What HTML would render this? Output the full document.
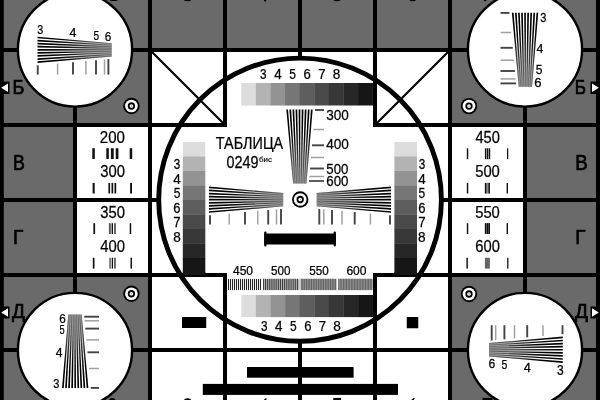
<!DOCTYPE html>
<html><head><meta charset="utf-8"><style>
html,body{margin:0;padding:0;background:#fff;width:600px;height:400px;overflow:hidden}
svg{display:block;will-change:transform}
text{font-family:"Liberation Sans",sans-serif;fill:#000}
</style></head><body>
<svg width="600" height="400" viewBox="0 0 600 400">
<rect x="0" y="0" width="600" height="400" fill="#fff"/>
<rect x="0" y="0" width="600" height="50" fill="#6a6a6a"/>
<rect x="0" y="50" width="150" height="75" fill="#6a6a6a"/>
<rect x="450" y="50" width="150" height="75" fill="#6a6a6a"/>
<rect x="0" y="125" width="75" height="150" fill="#6a6a6a"/>
<rect x="525" y="125" width="75" height="150" fill="#6a6a6a"/>
<rect x="0" y="275" width="150" height="125" fill="#6a6a6a"/>
<rect x="450" y="275" width="150" height="125" fill="#6a6a6a"/>
<rect x="0" y="0" width="3.8" height="400" fill="#000"/>
<rect x="596" y="0" width="4" height="400" fill="#000"/>
<rect x="73" y="0" width="4" height="400" fill="#000"/>
<rect x="148" y="0" width="4" height="400" fill="#000"/>
<rect x="448" y="0" width="4" height="400" fill="#000"/>
<rect x="523" y="0" width="4" height="400" fill="#000"/>
<rect x="223" y="0" width="4" height="127" fill="#000"/>
<rect x="223" y="273" width="4" height="127" fill="#000"/>
<rect x="373" y="0" width="4" height="127" fill="#000"/>
<rect x="373" y="273" width="4" height="127" fill="#000"/>
<rect x="298" y="0" width="4" height="60" fill="#000"/>
<rect x="298" y="340" width="4" height="60" fill="#000"/>
<rect x="0" y="48" width="600" height="4" fill="#000"/>
<rect x="0" y="348" width="600" height="4" fill="#000"/>
<rect x="0" y="123" width="227" height="4" fill="#000"/>
<rect x="373" y="123" width="227" height="4" fill="#000"/>
<rect x="0" y="273" width="227" height="4" fill="#000"/>
<rect x="373" y="273" width="227" height="4" fill="#000"/>
<rect x="0" y="198" width="160" height="4" fill="#000"/>
<rect x="440" y="198" width="160" height="4" fill="#000"/>
<line x1="150" y1="50" x2="225" y2="125" stroke="#000" stroke-width="2.2"/>
<line x1="450" y1="50" x2="375" y2="125" stroke="#000" stroke-width="2.2"/>
<ellipse cx="300.05" cy="199.7" rx="141.35" ry="141.6" fill="none" stroke="#000" stroke-width="4.9"/>
<circle cx="75" cy="49.5" r="57.1" fill="#fff" stroke="#000" stroke-width="2.4"/>
<circle cx="525" cy="49.5" r="57.1" fill="#fff" stroke="#000" stroke-width="2.4"/>
<circle cx="75" cy="350" r="57.1" fill="#fff" stroke="#000" stroke-width="2.4"/>
<circle cx="525" cy="350" r="57.1" fill="#fff" stroke="#000" stroke-width="2.4"/>
<circle cx="131.4" cy="106" r="8.2" fill="#000" stroke="none" stroke-width="0"/>
<circle cx="131.4" cy="106" r="6.35" fill="#fff" stroke="none" stroke-width="0"/>
<circle cx="131.4" cy="106" r="3.65" fill="#000" stroke="none" stroke-width="0"/>
<circle cx="131.4" cy="106" r="1.85" fill="#fff" stroke="none" stroke-width="0"/>
<circle cx="131.4" cy="106" r="0.6" fill="#555" stroke="none" stroke-width="0"/>
<circle cx="469" cy="106.1" r="8.2" fill="#000" stroke="none" stroke-width="0"/>
<circle cx="469" cy="106.1" r="6.35" fill="#fff" stroke="none" stroke-width="0"/>
<circle cx="469" cy="106.1" r="3.65" fill="#000" stroke="none" stroke-width="0"/>
<circle cx="469" cy="106.1" r="1.85" fill="#fff" stroke="none" stroke-width="0"/>
<circle cx="469" cy="106.1" r="0.6" fill="#555" stroke="none" stroke-width="0"/>
<circle cx="131.4" cy="293.75" r="8.2" fill="#000" stroke="none" stroke-width="0"/>
<circle cx="131.4" cy="293.75" r="6.35" fill="#fff" stroke="none" stroke-width="0"/>
<circle cx="131.4" cy="293.75" r="3.65" fill="#000" stroke="none" stroke-width="0"/>
<circle cx="131.4" cy="293.75" r="1.85" fill="#fff" stroke="none" stroke-width="0"/>
<circle cx="131.4" cy="293.75" r="0.6" fill="#555" stroke="none" stroke-width="0"/>
<circle cx="469" cy="294" r="8.2" fill="#000" stroke="none" stroke-width="0"/>
<circle cx="469" cy="294" r="6.35" fill="#fff" stroke="none" stroke-width="0"/>
<circle cx="469" cy="294" r="3.65" fill="#000" stroke="none" stroke-width="0"/>
<circle cx="469" cy="294" r="1.85" fill="#fff" stroke="none" stroke-width="0"/>
<circle cx="469" cy="294" r="0.6" fill="#555" stroke="none" stroke-width="0"/>
<circle cx="300.2" cy="199.5" r="8.2" fill="#000" stroke="none" stroke-width="0"/>
<circle cx="300.2" cy="199.5" r="6.35" fill="#fff" stroke="none" stroke-width="0"/>
<circle cx="300.2" cy="199.5" r="3.65" fill="#000" stroke="none" stroke-width="0"/>
<circle cx="300.2" cy="199.5" r="1.85" fill="#fff" stroke="none" stroke-width="0"/>
<circle cx="300.2" cy="199.5" r="0.6" fill="#999" stroke="none" stroke-width="0"/>
<linearGradient id="wbg1" gradientUnits="userSpaceOnUse" x1="37.5" y1="49.8" x2="111.7" y2="49.8"><stop offset="0.0" stop-color="#ffffff"/><stop offset="0.1" stop-color="#ffffff"/><stop offset="0.2" stop-color="#ffffff"/><stop offset="0.3" stop-color="#ffffff"/><stop offset="0.4" stop-color="#f1f1f1"/><stop offset="0.5" stop-color="#e1e1e1"/><stop offset="0.6" stop-color="#d0d0d0"/><stop offset="0.7" stop-color="#c0c0c0"/><stop offset="0.8" stop-color="#afafaf"/><stop offset="0.9" stop-color="#9f9f9f"/><stop offset="1.0" stop-color="#939393"/></linearGradient>
<linearGradient id="wfg1" gradientUnits="userSpaceOnUse" x1="37.5" y1="49.8" x2="111.7" y2="49.8"><stop offset="0.0" stop-color="#000000"/><stop offset="0.1" stop-color="#000000"/><stop offset="0.2" stop-color="#000000"/><stop offset="0.3" stop-color="#000000"/><stop offset="0.4" stop-color="#0f0f0f"/><stop offset="0.5" stop-color="#212121"/><stop offset="0.6" stop-color="#323232"/><stop offset="0.7" stop-color="#444444"/><stop offset="0.8" stop-color="#555555"/><stop offset="0.9" stop-color="#676767"/><stop offset="1.0" stop-color="#747474"/></linearGradient>
<polygon points="37.5,36.63 111.7,43.17 111.7,56.43 37.5,62.97" fill="url(#wbg1)"/>
<polygon points="37.5,36.63 111.7,43.17 111.7,44.03 37.5,38.33" fill="url(#wfg1)"/>
<polygon points="37.5,39.71 111.7,44.72 111.7,45.58 37.5,41.41" fill="url(#wfg1)"/>
<polygon points="37.5,42.79 111.7,46.27 111.7,47.13 37.5,44.49" fill="url(#wfg1)"/>
<polygon points="37.5,45.87 111.7,47.82 111.7,48.68 37.5,47.57" fill="url(#wfg1)"/>
<polygon points="37.5,48.95 111.7,49.37 111.7,50.23 37.5,50.65" fill="url(#wfg1)"/>
<polygon points="37.5,52.03 111.7,50.92 111.7,51.78 37.5,53.73" fill="url(#wfg1)"/>
<polygon points="37.5,55.11 111.7,52.47 111.7,53.33 37.5,56.81" fill="url(#wfg1)"/>
<polygon points="37.5,58.19 111.7,54.02 111.7,54.88 37.5,59.89" fill="url(#wfg1)"/>
<polygon points="37.5,61.27 111.7,55.57 111.7,56.43 37.5,62.97" fill="url(#wfg1)"/>
<line x1="37.75" y1="65.34" x2="37.75" y2="74.6" stroke="#444" stroke-width="1.9"/>
<line x1="57.6" y1="63.6" x2="57.6" y2="74.6" stroke="#a0a0a0" stroke-width="1.5"/>
<line x1="73" y1="62.24" x2="73" y2="74.6" stroke="#444" stroke-width="1.9"/>
<line x1="85.9" y1="61.1" x2="85.9" y2="74.6" stroke="#a0a0a0" stroke-width="1.5"/>
<line x1="96" y1="60.21" x2="96" y2="74.6" stroke="#444" stroke-width="1.9"/>
<line x1="104.5" y1="59.46" x2="104.5" y2="74.6" stroke="#a0a0a0" stroke-width="1.5"/>
<line x1="108.4" y1="59.12" x2="108.4" y2="74.6" stroke="#444" stroke-width="1.9"/>
<text transform="translate(37.17,33.7) scale(0.808,1)" font-size="13.43" stroke="#000" stroke-width="0.25">3</text>
<text transform="translate(69.54,36.8) scale(1.033,1)" font-size="12.10" stroke="#000" stroke-width="0.25">4</text>
<text transform="translate(93.4,39.6) scale(0.792,1)" font-size="12.75" stroke="#000" stroke-width="0.25">5</text>
<text transform="translate(104.81,41) scale(0.934,1)" font-size="12.57" stroke="#000" stroke-width="0.25">6</text>
<linearGradient id="wbg2" gradientUnits="userSpaceOnUse" x1="489" y1="349.75" x2="562.8" y2="349.75"><stop offset="0.0" stop-color="#939393"/><stop offset="0.1" stop-color="#9f9f9f"/><stop offset="0.2" stop-color="#afafaf"/><stop offset="0.3" stop-color="#c0c0c0"/><stop offset="0.4" stop-color="#d0d0d0"/><stop offset="0.5" stop-color="#e1e1e1"/><stop offset="0.6" stop-color="#f1f1f1"/><stop offset="0.7" stop-color="#ffffff"/><stop offset="0.8" stop-color="#ffffff"/><stop offset="0.9" stop-color="#ffffff"/><stop offset="1.0" stop-color="#ffffff"/></linearGradient>
<linearGradient id="wfg2" gradientUnits="userSpaceOnUse" x1="489" y1="349.75" x2="562.8" y2="349.75"><stop offset="0.0" stop-color="#747474"/><stop offset="0.1" stop-color="#676767"/><stop offset="0.2" stop-color="#555555"/><stop offset="0.3" stop-color="#444444"/><stop offset="0.4" stop-color="#323232"/><stop offset="0.5" stop-color="#212121"/><stop offset="0.6" stop-color="#0f0f0f"/><stop offset="0.7" stop-color="#000000"/><stop offset="0.8" stop-color="#000000"/><stop offset="0.9" stop-color="#000000"/><stop offset="1.0" stop-color="#000000"/></linearGradient>
<polygon points="489,343.12 562.8,336.58 562.8,362.92 489,356.38" fill="url(#wbg2)"/>
<polygon points="489,343.12 562.8,336.58 562.8,338.28 489,343.98" fill="url(#wfg2)"/>
<polygon points="489,344.67 562.8,339.66 562.8,341.36 489,345.53" fill="url(#wfg2)"/>
<polygon points="489,346.22 562.8,342.74 562.8,344.44 489,347.08" fill="url(#wfg2)"/>
<polygon points="489,347.77 562.8,345.82 562.8,347.52 489,348.63" fill="url(#wfg2)"/>
<polygon points="489,349.32 562.8,348.9 562.8,350.6 489,350.18" fill="url(#wfg2)"/>
<polygon points="489,350.87 562.8,351.98 562.8,353.68 489,351.73" fill="url(#wfg2)"/>
<polygon points="489,352.42 562.8,355.06 562.8,356.76 489,353.28" fill="url(#wfg2)"/>
<polygon points="489,353.97 562.8,358.14 562.8,359.84 489,354.83" fill="url(#wfg2)"/>
<polygon points="489,355.52 562.8,361.22 562.8,362.92 489,356.38" fill="url(#wfg2)"/>
<line x1="491.7" y1="340.48" x2="491.7" y2="325.2" stroke="#444" stroke-width="1.9"/>
<line x1="495.7" y1="340.13" x2="495.7" y2="325.2" stroke="#a0a0a0" stroke-width="1.5"/>
<line x1="504.4" y1="339.36" x2="504.4" y2="325.2" stroke="#444" stroke-width="1.9"/>
<line x1="514.5" y1="338.46" x2="514.5" y2="325.2" stroke="#a0a0a0" stroke-width="1.5"/>
<line x1="527.2" y1="337.34" x2="527.2" y2="325.2" stroke="#444" stroke-width="1.9"/>
<line x1="543" y1="335.94" x2="543" y2="325.2" stroke="#a0a0a0" stroke-width="1.5"/>
<line x1="562.5" y1="334.21" x2="562.5" y2="325.2" stroke="#444" stroke-width="1.9"/>
<text transform="translate(488.39,367.6) scale(0.907,1)" font-size="13.43" stroke="#000" stroke-width="0.25">6</text>
<text transform="translate(501.58,368.8) scale(0.825,1)" font-size="12.75" stroke="#000" stroke-width="0.25">5</text>
<text transform="translate(523.68,371.6) scale(1.004,1)" font-size="12.75" stroke="#000" stroke-width="0.25">4</text>
<text transform="translate(557.12,374.8) scale(0.869,1)" font-size="13.71" stroke="#000" stroke-width="0.25">3</text>
<linearGradient id="wbg3" gradientUnits="userSpaceOnUse" x1="525.05" y1="12.7" x2="525.4" y2="86.8"><stop offset="0.0" stop-color="#ffffff"/><stop offset="0.1" stop-color="#ffffff"/><stop offset="0.2" stop-color="#ffffff"/><stop offset="0.3" stop-color="#ffffff"/><stop offset="0.4" stop-color="#f1f1f1"/><stop offset="0.5" stop-color="#e1e1e1"/><stop offset="0.6" stop-color="#d0d0d0"/><stop offset="0.7" stop-color="#c0c0c0"/><stop offset="0.8" stop-color="#afafaf"/><stop offset="0.9" stop-color="#9f9f9f"/><stop offset="1.0" stop-color="#939393"/></linearGradient>
<linearGradient id="wfg3" gradientUnits="userSpaceOnUse" x1="525.05" y1="12.7" x2="525.4" y2="86.8"><stop offset="0.0" stop-color="#000000"/><stop offset="0.1" stop-color="#000000"/><stop offset="0.2" stop-color="#000000"/><stop offset="0.3" stop-color="#000000"/><stop offset="0.4" stop-color="#0f0f0f"/><stop offset="0.5" stop-color="#212121"/><stop offset="0.6" stop-color="#323232"/><stop offset="0.7" stop-color="#444444"/><stop offset="0.8" stop-color="#555555"/><stop offset="0.9" stop-color="#676767"/><stop offset="1.0" stop-color="#747474"/></linearGradient>
<polygon points="511.88,12.7 518.77,86.8 532.03,86.8 538.22,12.7" fill="url(#wbg3)"/>
<polygon points="511.88,12.7 518.77,86.8 519.63,86.8 513.58,12.7" fill="url(#wfg3)"/>
<polygon points="514.96,12.7 520.32,86.8 521.18,86.8 516.66,12.7" fill="url(#wfg3)"/>
<polygon points="518.04,12.7 521.87,86.8 522.73,86.8 519.74,12.7" fill="url(#wfg3)"/>
<polygon points="521.12,12.7 523.42,86.8 524.28,86.8 522.82,12.7" fill="url(#wfg3)"/>
<polygon points="524.2,12.7 524.97,86.8 525.83,86.8 525.9,12.7" fill="url(#wfg3)"/>
<polygon points="527.28,12.7 526.52,86.8 527.38,86.8 528.98,12.7" fill="url(#wfg3)"/>
<polygon points="530.36,12.7 528.07,86.8 528.93,86.8 532.06,12.7" fill="url(#wfg3)"/>
<polygon points="533.44,12.7 529.62,86.8 530.48,86.8 535.14,12.7" fill="url(#wfg3)"/>
<polygon points="536.52,12.7 531.17,86.8 532.03,86.8 538.22,12.7" fill="url(#wfg3)"/>
<line x1="509.5" y1="12.9" x2="500.5" y2="12.9" stroke="#444" stroke-width="1.9"/>
<line x1="511.32" y1="32.5" x2="500.5" y2="32.5" stroke="#a0a0a0" stroke-width="1.5"/>
<line x1="512.75" y1="47.8" x2="500.5" y2="47.8" stroke="#444" stroke-width="1.9"/>
<line x1="513.9" y1="60.2" x2="500.5" y2="60.2" stroke="#a0a0a0" stroke-width="1.5"/>
<line x1="514.9" y1="71" x2="500.5" y2="71" stroke="#444" stroke-width="1.9"/>
<line x1="515.64" y1="78.9" x2="500.5" y2="78.9" stroke="#a0a0a0" stroke-width="1.5"/>
<line x1="516.06" y1="83.4" x2="500.5" y2="83.4" stroke="#444" stroke-width="1.9"/>
<text transform="translate(540.36,21.8) scale(0.807,1)" font-size="13.71" stroke="#000" stroke-width="0.25">3</text>
<text transform="translate(536.59,52.5) scale(0.978,1)" font-size="12.68" stroke="#000" stroke-width="0.25">4</text>
<text transform="translate(535.77,74.4) scale(0.933,1)" font-size="12.75" stroke="#000" stroke-width="0.25">5</text>
<text transform="translate(534.35,86.9) scale(1.038,1)" font-size="12.57" stroke="#000" stroke-width="0.25">6</text>
<linearGradient id="wbg4" gradientUnits="userSpaceOnUse" x1="75" y1="314.5" x2="75.2" y2="388"><stop offset="0.0" stop-color="#939393"/><stop offset="0.1" stop-color="#9f9f9f"/><stop offset="0.2" stop-color="#afafaf"/><stop offset="0.3" stop-color="#c0c0c0"/><stop offset="0.4" stop-color="#d0d0d0"/><stop offset="0.5" stop-color="#e1e1e1"/><stop offset="0.6" stop-color="#f1f1f1"/><stop offset="0.7" stop-color="#ffffff"/><stop offset="0.8" stop-color="#ffffff"/><stop offset="0.9" stop-color="#ffffff"/><stop offset="1.0" stop-color="#ffffff"/></linearGradient>
<linearGradient id="wfg4" gradientUnits="userSpaceOnUse" x1="75" y1="314.5" x2="75.2" y2="388"><stop offset="0.0" stop-color="#747474"/><stop offset="0.1" stop-color="#676767"/><stop offset="0.2" stop-color="#555555"/><stop offset="0.3" stop-color="#444444"/><stop offset="0.4" stop-color="#323232"/><stop offset="0.5" stop-color="#212121"/><stop offset="0.6" stop-color="#0f0f0f"/><stop offset="0.7" stop-color="#000000"/><stop offset="0.8" stop-color="#000000"/><stop offset="0.9" stop-color="#000000"/><stop offset="1.0" stop-color="#000000"/></linearGradient>
<polygon points="68.37,314.5 62.03,388 88.37,388 81.63,314.5" fill="url(#wbg4)"/>
<polygon points="68.37,314.5 62.03,388 63.73,388 69.23,314.5" fill="url(#wfg4)"/>
<polygon points="69.92,314.5 65.11,388 66.81,388 70.78,314.5" fill="url(#wfg4)"/>
<polygon points="71.47,314.5 68.19,388 69.89,388 72.33,314.5" fill="url(#wfg4)"/>
<polygon points="73.02,314.5 71.27,388 72.97,388 73.88,314.5" fill="url(#wfg4)"/>
<polygon points="74.57,314.5 74.35,388 76.05,388 75.43,314.5" fill="url(#wfg4)"/>
<polygon points="76.12,314.5 77.43,388 79.13,388 76.98,314.5" fill="url(#wfg4)"/>
<polygon points="77.67,314.5 80.51,388 82.21,388 78.53,314.5" fill="url(#wfg4)"/>
<polygon points="79.22,314.5 83.59,388 85.29,388 80.08,314.5" fill="url(#wfg4)"/>
<polygon points="80.77,314.5 86.67,388 88.37,388 81.63,314.5" fill="url(#wfg4)"/>
<line x1="84.23" y1="316.7" x2="99" y2="316.7" stroke="#444" stroke-width="1.9"/>
<line x1="84.6" y1="320.8" x2="99" y2="320.8" stroke="#a0a0a0" stroke-width="1.5"/>
<line x1="85.32" y1="328.6" x2="99" y2="328.6" stroke="#444" stroke-width="1.9"/>
<line x1="86.36" y1="339.9" x2="99" y2="339.9" stroke="#a0a0a0" stroke-width="1.5"/>
<line x1="87.49" y1="352.3" x2="99" y2="352.3" stroke="#444" stroke-width="1.9"/>
<line x1="88.98" y1="368.5" x2="99" y2="368.5" stroke="#a0a0a0" stroke-width="1.5"/>
<line x1="90.76" y1="387.9" x2="99" y2="387.9" stroke="#444" stroke-width="1.9"/>
<text transform="translate(59.32,323.25) scale(0.900,1)" font-size="12.93" stroke="#000" stroke-width="0.25">6</text>
<text transform="translate(59.53,333.9) scale(0.702,1)" font-size="13.19" stroke="#000" stroke-width="0.25">5</text>
<text transform="translate(55.8,356.6) scale(0.985,1)" font-size="12.39" stroke="#000" stroke-width="0.25">4</text>
<text transform="translate(53.36,387.7) scale(0.861,1)" font-size="12.86" stroke="#000" stroke-width="0.25">3</text>
<rect x="241.25" y="83" width="14.9" height="22.5" fill="#dcdcdc"/>
<rect x="241.3" y="295" width="14.9" height="22.1" fill="#dcdcdc"/>
<rect x="182.8" y="142" width="22.5" height="14.8" fill="#dcdcdc"/>
<rect x="394.4" y="142" width="22.6" height="14.8" fill="#dcdcdc"/>
<rect x="255.85" y="83" width="14.9" height="22.5" fill="#b3b3b3"/>
<rect x="255.9" y="295" width="14.9" height="22.1" fill="#b3b3b3"/>
<rect x="182.8" y="156.5" width="22.5" height="14.8" fill="#b3b3b3"/>
<rect x="394.4" y="156.5" width="22.6" height="14.8" fill="#b3b3b3"/>
<rect x="270.45" y="83" width="14.9" height="22.5" fill="#939393"/>
<rect x="270.5" y="295" width="14.9" height="22.1" fill="#939393"/>
<rect x="182.8" y="171" width="22.5" height="14.8" fill="#939393"/>
<rect x="394.4" y="171" width="22.6" height="14.8" fill="#939393"/>
<rect x="285.05" y="83" width="14.9" height="22.5" fill="#767676"/>
<rect x="285.1" y="295" width="14.9" height="22.1" fill="#767676"/>
<rect x="182.8" y="185.5" width="22.5" height="14.8" fill="#767676"/>
<rect x="394.4" y="185.5" width="22.6" height="14.8" fill="#767676"/>
<rect x="299.65" y="83" width="14.9" height="22.5" fill="#5e5e5e"/>
<rect x="299.7" y="295" width="14.9" height="22.1" fill="#5e5e5e"/>
<rect x="182.8" y="200" width="22.5" height="14.8" fill="#5e5e5e"/>
<rect x="394.4" y="200" width="22.6" height="14.8" fill="#5e5e5e"/>
<rect x="314.25" y="83" width="14.9" height="22.5" fill="#4a4a4a"/>
<rect x="314.3" y="295" width="14.9" height="22.1" fill="#4a4a4a"/>
<rect x="182.8" y="214.5" width="22.5" height="14.8" fill="#4a4a4a"/>
<rect x="394.4" y="214.5" width="22.6" height="14.8" fill="#4a4a4a"/>
<rect x="328.85" y="83" width="14.9" height="22.5" fill="#383838"/>
<rect x="328.9" y="295" width="14.9" height="22.1" fill="#383838"/>
<rect x="182.8" y="229" width="22.5" height="14.8" fill="#383838"/>
<rect x="394.4" y="229" width="22.6" height="14.8" fill="#383838"/>
<rect x="343.45" y="83" width="14.9" height="22.5" fill="#272727"/>
<rect x="343.5" y="295" width="14.9" height="22.1" fill="#272727"/>
<rect x="182.8" y="243.5" width="22.5" height="14.8" fill="#272727"/>
<rect x="394.4" y="243.5" width="22.6" height="14.8" fill="#272727"/>
<rect x="358.05" y="83" width="14.9" height="22.5" fill="#161616"/>
<rect x="358.1" y="295" width="14.9" height="22.1" fill="#161616"/>
<rect x="182.8" y="258" width="22.5" height="14.8" fill="#161616"/>
<rect x="394.4" y="258" width="22.6" height="14.8" fill="#161616"/>
<rect x="182.8" y="272" width="22.5" height="3" fill="#161616"/>
<rect x="394.4" y="272" width="22.6" height="3" fill="#161616"/>
<text transform="translate(260.03,78.8) scale(0.819,1)" font-size="14.29" stroke="#000" stroke-width="0.25">3</text>
<text transform="translate(261.03,331) scale(0.819,1)" font-size="14.29" stroke="#000" stroke-width="0.25">3</text>
<text transform="translate(173.78,169.2) scale(0.795,1)" font-size="14.71" stroke="#000" stroke-width="0.25">3</text>
<text transform="translate(418.68,169.2) scale(0.795,1)" font-size="14.71" stroke="#000" stroke-width="0.25">3</text>
<text transform="translate(274.19,78.8) scale(0.931,1)" font-size="14.49" stroke="#000" stroke-width="0.25">4</text>
<text transform="translate(275.11,331) scale(0.931,1)" font-size="14.49" stroke="#000" stroke-width="0.25">4</text>
<text transform="translate(173.29,183.75) scale(0.904,1)" font-size="14.93" stroke="#000" stroke-width="0.25">4</text>
<text transform="translate(418.19,183.75) scale(0.904,1)" font-size="14.93" stroke="#000" stroke-width="0.25">4</text>
<text transform="translate(289.22,78.8) scale(0.828,1)" font-size="14.49" stroke="#000" stroke-width="0.25">5</text>
<text transform="translate(290.06,331) scale(0.828,1)" font-size="14.49" stroke="#000" stroke-width="0.25">5</text>
<text transform="translate(173.67,198.3) scale(0.804,1)" font-size="14.93" stroke="#000" stroke-width="0.25">5</text>
<text transform="translate(418.57,198.3) scale(0.804,1)" font-size="14.93" stroke="#000" stroke-width="0.25">5</text>
<text transform="translate(303.55,78.8) scale(0.913,1)" font-size="14.29" stroke="#000" stroke-width="0.25">6</text>
<text transform="translate(304.31,331) scale(0.913,1)" font-size="14.29" stroke="#000" stroke-width="0.25">6</text>
<text transform="translate(173.35,212.85) scale(0.886,1)" font-size="14.71" stroke="#000" stroke-width="0.25">6</text>
<text transform="translate(418.25,212.85) scale(0.886,1)" font-size="14.71" stroke="#000" stroke-width="0.25">6</text>
<text transform="translate(318.19,78.8) scale(0.910,1)" font-size="14.49" stroke="#000" stroke-width="0.25">7</text>
<text transform="translate(318.87,331) scale(0.910,1)" font-size="14.49" stroke="#000" stroke-width="0.25">7</text>
<text transform="translate(173.34,227.4) scale(0.883,1)" font-size="14.93" stroke="#000" stroke-width="0.25">7</text>
<text transform="translate(418.24,227.4) scale(0.883,1)" font-size="14.93" stroke="#000" stroke-width="0.25">7</text>
<text transform="translate(332.69,78.8) scale(0.953,1)" font-size="14.29" stroke="#000" stroke-width="0.25">8</text>
<text transform="translate(333.29,331) scale(0.953,1)" font-size="14.29" stroke="#000" stroke-width="0.25">8</text>
<text transform="translate(173.19,241.95) scale(0.925,1)" font-size="14.71" stroke="#000" stroke-width="0.25">8</text>
<text transform="translate(418.09,241.95) scale(0.925,1)" font-size="14.71" stroke="#000" stroke-width="0.25">8</text>
<linearGradient id="wbg5" gradientUnits="userSpaceOnUse" x1="299.5" y1="109.5" x2="299.75" y2="183.5"><stop offset="0.0" stop-color="#ffffff"/><stop offset="0.1" stop-color="#ffffff"/><stop offset="0.2" stop-color="#ffffff"/><stop offset="0.3" stop-color="#ffffff"/><stop offset="0.4" stop-color="#f1f1f1"/><stop offset="0.5" stop-color="#e1e1e1"/><stop offset="0.6" stop-color="#d0d0d0"/><stop offset="0.7" stop-color="#c0c0c0"/><stop offset="0.8" stop-color="#afafaf"/><stop offset="0.9" stop-color="#9f9f9f"/><stop offset="1.0" stop-color="#939393"/></linearGradient>
<linearGradient id="wfg5" gradientUnits="userSpaceOnUse" x1="299.5" y1="109.5" x2="299.75" y2="183.5"><stop offset="0.0" stop-color="#000000"/><stop offset="0.1" stop-color="#000000"/><stop offset="0.2" stop-color="#000000"/><stop offset="0.3" stop-color="#000000"/><stop offset="0.4" stop-color="#0f0f0f"/><stop offset="0.5" stop-color="#212121"/><stop offset="0.6" stop-color="#323232"/><stop offset="0.7" stop-color="#444444"/><stop offset="0.8" stop-color="#555555"/><stop offset="0.9" stop-color="#676767"/><stop offset="1.0" stop-color="#747474"/></linearGradient>
<polygon points="286.33,109.5 293.12,183.5 306.38,183.5 312.67,109.5" fill="url(#wbg5)"/>
<polygon points="286.33,109.5 293.12,183.5 293.98,183.5 288.03,109.5" fill="url(#wfg5)"/>
<polygon points="289.41,109.5 294.67,183.5 295.53,183.5 291.11,109.5" fill="url(#wfg5)"/>
<polygon points="292.49,109.5 296.22,183.5 297.08,183.5 294.19,109.5" fill="url(#wfg5)"/>
<polygon points="295.57,109.5 297.77,183.5 298.63,183.5 297.27,109.5" fill="url(#wfg5)"/>
<polygon points="298.65,109.5 299.32,183.5 300.18,183.5 300.35,109.5" fill="url(#wfg5)"/>
<polygon points="301.73,109.5 300.87,183.5 301.73,183.5 303.43,109.5" fill="url(#wfg5)"/>
<polygon points="304.81,109.5 302.42,183.5 303.28,183.5 306.51,109.5" fill="url(#wfg5)"/>
<polygon points="307.89,109.5 303.97,183.5 304.83,183.5 309.59,109.5" fill="url(#wfg5)"/>
<polygon points="310.97,109.5 305.52,183.5 306.38,183.5 312.67,109.5" fill="url(#wfg5)"/>
<line x1="315.02" y1="110" x2="324" y2="110" stroke="#444" stroke-width="1.9"/>
<line x1="313.37" y1="129.5" x2="324" y2="129.5" stroke="#a0a0a0" stroke-width="1.5"/>
<line x1="312.02" y1="145.3" x2="324" y2="145.3" stroke="#444" stroke-width="1.9"/>
<line x1="310.99" y1="157.5" x2="324" y2="157.5" stroke="#a0a0a0" stroke-width="1.5"/>
<line x1="310.05" y1="168.5" x2="324" y2="168.5" stroke="#444" stroke-width="1.9"/>
<line x1="309.37" y1="176.5" x2="324" y2="176.5" stroke="#a0a0a0" stroke-width="1.5"/>
<line x1="308.99" y1="181" x2="324" y2="181" stroke="#555" stroke-width="1.9"/>
<text transform="translate(326.21,120) scale(0.883,1)" font-size="15.36" stroke="#000" stroke-width="0.25">300</text>
<text transform="translate(326.16,149.2) scale(0.924,1)" font-size="14.71" stroke="#000" stroke-width="0.25">400</text>
<text transform="translate(326.37,173.9) scale(0.883,1)" font-size="15.00" stroke="#000" stroke-width="0.25">500</text>
<text transform="translate(326.23,185.5) scale(0.924,1)" font-size="14.43" stroke="#000" stroke-width="0.25">600</text>
<linearGradient id="wbg6" gradientUnits="userSpaceOnUse" x1="209" y1="199.7" x2="283.2" y2="199.7"><stop offset="0.0" stop-color="#ffffff"/><stop offset="0.1" stop-color="#ffffff"/><stop offset="0.2" stop-color="#ffffff"/><stop offset="0.3" stop-color="#ffffff"/><stop offset="0.4" stop-color="#f1f1f1"/><stop offset="0.5" stop-color="#e1e1e1"/><stop offset="0.6" stop-color="#d0d0d0"/><stop offset="0.7" stop-color="#c0c0c0"/><stop offset="0.8" stop-color="#afafaf"/><stop offset="0.9" stop-color="#9f9f9f"/><stop offset="1.0" stop-color="#939393"/></linearGradient>
<linearGradient id="wfg6" gradientUnits="userSpaceOnUse" x1="209" y1="199.7" x2="283.2" y2="199.7"><stop offset="0.0" stop-color="#000000"/><stop offset="0.1" stop-color="#000000"/><stop offset="0.2" stop-color="#000000"/><stop offset="0.3" stop-color="#000000"/><stop offset="0.4" stop-color="#0f0f0f"/><stop offset="0.5" stop-color="#212121"/><stop offset="0.6" stop-color="#323232"/><stop offset="0.7" stop-color="#444444"/><stop offset="0.8" stop-color="#555555"/><stop offset="0.9" stop-color="#676767"/><stop offset="1.0" stop-color="#747474"/></linearGradient>
<polygon points="209,186.53 283.2,193.07 283.2,206.33 209,212.87" fill="url(#wbg6)"/>
<polygon points="209,186.53 283.2,193.07 283.2,193.93 209,188.23" fill="url(#wfg6)"/>
<polygon points="209,189.61 283.2,194.62 283.2,195.48 209,191.31" fill="url(#wfg6)"/>
<polygon points="209,192.69 283.2,196.17 283.2,197.03 209,194.39" fill="url(#wfg6)"/>
<polygon points="209,195.77 283.2,197.72 283.2,198.58 209,197.47" fill="url(#wfg6)"/>
<polygon points="209,198.85 283.2,199.27 283.2,200.13 209,200.55" fill="url(#wfg6)"/>
<polygon points="209,201.93 283.2,200.82 283.2,201.68 209,203.63" fill="url(#wfg6)"/>
<polygon points="209,205.01 283.2,202.37 283.2,203.23 209,206.71" fill="url(#wfg6)"/>
<polygon points="209,208.09 283.2,203.92 283.2,204.78 209,209.79" fill="url(#wfg6)"/>
<polygon points="209,211.17 283.2,205.47 283.2,206.33 209,212.87" fill="url(#wfg6)"/>
<line x1="210" y1="215.18" x2="210" y2="224.5" stroke="#444" stroke-width="1.9"/>
<line x1="229.2" y1="213.49" x2="229.2" y2="224.5" stroke="#a0a0a0" stroke-width="1.5"/>
<line x1="245" y1="212.09" x2="245" y2="224.5" stroke="#444" stroke-width="1.9"/>
<line x1="257.7" y1="210.97" x2="257.7" y2="224.5" stroke="#a0a0a0" stroke-width="1.5"/>
<line x1="268.2" y1="210.05" x2="268.2" y2="224.5" stroke="#444" stroke-width="1.9"/>
<line x1="276.5" y1="209.32" x2="276.5" y2="224.5" stroke="#a0a0a0" stroke-width="1.5"/>
<line x1="281" y1="208.92" x2="281" y2="224.5" stroke="#444" stroke-width="1.9"/>
<linearGradient id="wbg7" gradientUnits="userSpaceOnUse" x1="316.7" y1="199.7" x2="391" y2="199.7"><stop offset="0.0" stop-color="#939393"/><stop offset="0.1" stop-color="#9f9f9f"/><stop offset="0.2" stop-color="#afafaf"/><stop offset="0.3" stop-color="#c0c0c0"/><stop offset="0.4" stop-color="#d0d0d0"/><stop offset="0.5" stop-color="#e1e1e1"/><stop offset="0.6" stop-color="#f1f1f1"/><stop offset="0.7" stop-color="#ffffff"/><stop offset="0.8" stop-color="#ffffff"/><stop offset="0.9" stop-color="#ffffff"/><stop offset="1.0" stop-color="#ffffff"/></linearGradient>
<linearGradient id="wfg7" gradientUnits="userSpaceOnUse" x1="316.7" y1="199.7" x2="391" y2="199.7"><stop offset="0.0" stop-color="#747474"/><stop offset="0.1" stop-color="#676767"/><stop offset="0.2" stop-color="#555555"/><stop offset="0.3" stop-color="#444444"/><stop offset="0.4" stop-color="#323232"/><stop offset="0.5" stop-color="#212121"/><stop offset="0.6" stop-color="#0f0f0f"/><stop offset="0.7" stop-color="#000000"/><stop offset="0.8" stop-color="#000000"/><stop offset="0.9" stop-color="#000000"/><stop offset="1.0" stop-color="#000000"/></linearGradient>
<polygon points="316.7,193.07 391,186.53 391,212.87 316.7,206.33" fill="url(#wbg7)"/>
<polygon points="316.7,193.07 391,186.53 391,188.23 316.7,193.93" fill="url(#wfg7)"/>
<polygon points="316.7,194.62 391,189.61 391,191.31 316.7,195.48" fill="url(#wfg7)"/>
<polygon points="316.7,196.17 391,192.69 391,194.39 316.7,197.03" fill="url(#wfg7)"/>
<polygon points="316.7,197.72 391,195.77 391,197.47 316.7,198.58" fill="url(#wfg7)"/>
<polygon points="316.7,199.27 391,198.85 391,200.55 316.7,200.13" fill="url(#wfg7)"/>
<polygon points="316.7,200.82 391,201.93 391,203.63 316.7,201.68" fill="url(#wfg7)"/>
<polygon points="316.7,202.37 391,205.01 391,206.71 316.7,203.23" fill="url(#wfg7)"/>
<polygon points="316.7,203.92 391,208.09 391,209.79 316.7,204.78" fill="url(#wfg7)"/>
<polygon points="316.7,205.47 391,211.17 391,212.87 316.7,206.33" fill="url(#wfg7)"/>
<line x1="319.3" y1="208.96" x2="319.3" y2="224.5" stroke="#444" stroke-width="1.9"/>
<line x1="323.8" y1="209.35" x2="323.8" y2="224.5" stroke="#a0a0a0" stroke-width="1.5"/>
<line x1="332" y1="210.07" x2="332" y2="224.5" stroke="#444" stroke-width="1.9"/>
<line x1="342" y1="210.95" x2="342" y2="224.5" stroke="#a0a0a0" stroke-width="1.5"/>
<line x1="354.7" y1="212.07" x2="354.7" y2="224.5" stroke="#444" stroke-width="1.9"/>
<line x1="370.4" y1="213.45" x2="370.4" y2="224.5" stroke="#a0a0a0" stroke-width="1.5"/>
<line x1="390" y1="215.18" x2="390" y2="224.5" stroke="#444" stroke-width="1.9"/>
<rect x="264.3" y="233.5" width="71.7" height="11" fill="#000"/>
<rect x="264.2" y="231.5" width="2.3" height="15.1" rx="1" fill="#000"/>
<rect x="333.6" y="231.5" width="2.3" height="15.1" rx="1" fill="#000"/>
<rect x="227.7" y="278.9" width="33.6" height="11.2" fill="#eeeeee"/>
<rect x="228" y="278.9" width="1" height="11.2" fill="#262626"/>
<rect x="230" y="278.9" width="1" height="11.2" fill="#262626"/>
<rect x="232" y="278.9" width="1" height="11.2" fill="#262626"/>
<rect x="234" y="278.9" width="1" height="11.2" fill="#262626"/>
<rect x="236" y="278.9" width="1" height="11.2" fill="#262626"/>
<rect x="238" y="278.9" width="1" height="11.2" fill="#262626"/>
<rect x="240" y="278.9" width="1" height="11.2" fill="#262626"/>
<rect x="242" y="278.9" width="1" height="11.2" fill="#262626"/>
<rect x="244" y="278.9" width="1" height="11.2" fill="#262626"/>
<rect x="246" y="278.9" width="1" height="11.2" fill="#262626"/>
<rect x="248" y="278.9" width="1" height="11.2" fill="#262626"/>
<rect x="250" y="278.9" width="1" height="11.2" fill="#262626"/>
<rect x="252" y="278.9" width="1" height="11.2" fill="#262626"/>
<rect x="254" y="278.9" width="1" height="11.2" fill="#262626"/>
<rect x="256" y="278.9" width="1" height="11.2" fill="#262626"/>
<rect x="258" y="278.9" width="1" height="11.2" fill="#262626"/>
<rect x="260" y="278.9" width="1" height="11.2" fill="#262626"/>
<rect x="263.1" y="278.8" width="36.1" height="11.3" fill="#c0c0c0"/>
<rect x="263.1" y="278.8" width="0.94" height="11.3" fill="#303030"/>
<rect x="264.99" y="278.8" width="0.94" height="11.3" fill="#303030"/>
<rect x="266.88" y="278.8" width="0.94" height="11.3" fill="#303030"/>
<rect x="268.77" y="278.8" width="0.94" height="11.3" fill="#303030"/>
<rect x="270.66" y="278.8" width="0.94" height="11.3" fill="#303030"/>
<rect x="272.55" y="278.8" width="0.94" height="11.3" fill="#303030"/>
<rect x="274.44" y="278.8" width="0.94" height="11.3" fill="#303030"/>
<rect x="276.33" y="278.8" width="0.94" height="11.3" fill="#303030"/>
<rect x="278.22" y="278.8" width="0.94" height="11.3" fill="#303030"/>
<rect x="280.11" y="278.8" width="0.94" height="11.3" fill="#303030"/>
<rect x="282" y="278.8" width="0.94" height="11.3" fill="#303030"/>
<rect x="283.89" y="278.8" width="0.94" height="11.3" fill="#303030"/>
<rect x="285.78" y="278.8" width="0.94" height="11.3" fill="#303030"/>
<rect x="287.67" y="278.8" width="0.94" height="11.3" fill="#303030"/>
<rect x="289.56" y="278.8" width="0.94" height="11.3" fill="#303030"/>
<rect x="291.45" y="278.8" width="0.94" height="11.3" fill="#303030"/>
<rect x="293.34" y="278.8" width="0.94" height="11.3" fill="#303030"/>
<rect x="295.23" y="278.8" width="0.94" height="11.3" fill="#303030"/>
<rect x="297.12" y="278.8" width="0.94" height="11.3" fill="#303030"/>
<rect x="299.01" y="278.8" width="0.19" height="11.3" fill="#303030"/>
<rect x="300.8" y="278.8" width="35.7" height="11.3" fill="#9c9c9c"/>
<rect x="300.8" y="278.8" width="0.86" height="11.3" fill="#585858"/>
<rect x="302.52" y="278.8" width="0.86" height="11.3" fill="#585858"/>
<rect x="304.24" y="278.8" width="0.86" height="11.3" fill="#585858"/>
<rect x="305.96" y="278.8" width="0.86" height="11.3" fill="#585858"/>
<rect x="307.68" y="278.8" width="0.86" height="11.3" fill="#585858"/>
<rect x="309.4" y="278.8" width="0.86" height="11.3" fill="#585858"/>
<rect x="311.12" y="278.8" width="0.86" height="11.3" fill="#585858"/>
<rect x="312.84" y="278.8" width="0.86" height="11.3" fill="#585858"/>
<rect x="314.56" y="278.8" width="0.86" height="11.3" fill="#585858"/>
<rect x="316.28" y="278.8" width="0.86" height="11.3" fill="#585858"/>
<rect x="318" y="278.8" width="0.86" height="11.3" fill="#585858"/>
<rect x="319.72" y="278.8" width="0.86" height="11.3" fill="#585858"/>
<rect x="321.44" y="278.8" width="0.86" height="11.3" fill="#585858"/>
<rect x="323.16" y="278.8" width="0.86" height="11.3" fill="#585858"/>
<rect x="324.88" y="278.8" width="0.86" height="11.3" fill="#585858"/>
<rect x="326.6" y="278.8" width="0.86" height="11.3" fill="#585858"/>
<rect x="328.32" y="278.8" width="0.86" height="11.3" fill="#585858"/>
<rect x="330.04" y="278.8" width="0.86" height="11.3" fill="#585858"/>
<rect x="331.76" y="278.8" width="0.86" height="11.3" fill="#585858"/>
<rect x="333.48" y="278.8" width="0.86" height="11.3" fill="#585858"/>
<rect x="335.2" y="278.8" width="0.86" height="11.3" fill="#585858"/>
<rect x="338.3" y="278.8" width="34.3" height="11.3" fill="#969696"/>
<rect x="338.3" y="278.8" width="0.79" height="11.3" fill="#606060"/>
<rect x="339.88" y="278.8" width="0.79" height="11.3" fill="#606060"/>
<rect x="341.45" y="278.8" width="0.79" height="11.3" fill="#606060"/>
<rect x="343.02" y="278.8" width="0.79" height="11.3" fill="#606060"/>
<rect x="344.6" y="278.8" width="0.79" height="11.3" fill="#606060"/>
<rect x="346.17" y="278.8" width="0.79" height="11.3" fill="#606060"/>
<rect x="347.75" y="278.8" width="0.79" height="11.3" fill="#606060"/>
<rect x="349.32" y="278.8" width="0.79" height="11.3" fill="#606060"/>
<rect x="350.9" y="278.8" width="0.79" height="11.3" fill="#606060"/>
<rect x="352.47" y="278.8" width="0.79" height="11.3" fill="#606060"/>
<rect x="354.05" y="278.8" width="0.79" height="11.3" fill="#606060"/>
<rect x="355.62" y="278.8" width="0.79" height="11.3" fill="#606060"/>
<rect x="357.2" y="278.8" width="0.79" height="11.3" fill="#606060"/>
<rect x="358.77" y="278.8" width="0.79" height="11.3" fill="#606060"/>
<rect x="360.35" y="278.8" width="0.79" height="11.3" fill="#606060"/>
<rect x="361.92" y="278.8" width="0.79" height="11.3" fill="#606060"/>
<rect x="363.5" y="278.8" width="0.79" height="11.3" fill="#606060"/>
<rect x="365.07" y="278.8" width="0.79" height="11.3" fill="#606060"/>
<rect x="366.65" y="278.8" width="0.79" height="11.3" fill="#606060"/>
<rect x="368.22" y="278.8" width="0.79" height="11.3" fill="#606060"/>
<rect x="369.8" y="278.8" width="0.79" height="11.3" fill="#606060"/>
<rect x="371.37" y="278.8" width="0.79" height="11.3" fill="#606060"/>
<text transform="translate(232.95,274.75) scale(0.936,1)" font-size="12.86" stroke="#000" stroke-width="0.25">450</text>
<text transform="translate(271.03,274.75) scale(0.908,1)" font-size="12.86" stroke="#000" stroke-width="0.25">500</text>
<text transform="translate(309.28,274.75) scale(0.908,1)" font-size="12.86" stroke="#000" stroke-width="0.25">550</text>
<text transform="translate(346.4,274.75) scale(0.923,1)" font-size="13.07" stroke="#000" stroke-width="0.25">600</text>
<text transform="translate(215.81,148.9) scale(0.919,1)" font-size="15.65" stroke="#000" stroke-width="0.25">ТАБЛИЦА</text>
<text transform="translate(226.42,168) scale(0.833,1)" font-size="17.29" stroke="#000" stroke-width="0.25">0249</text>
<text transform="translate(259.03,161.7) scale(1.184,1)" font-size="6.67" stroke="#000" stroke-width="0.15">бис</text>
<text transform="translate(99.75,142.5) scale(0.898,1)" font-size="16.79" stroke="#000" stroke-width="0.25">200</text>
<text transform="translate(100.16,177) scale(0.883,1)" font-size="16.79" stroke="#000" stroke-width="0.25">300</text>
<text transform="translate(100.16,217.5) scale(0.883,1)" font-size="16.79" stroke="#000" stroke-width="0.25">350</text>
<text transform="translate(100.13,252) scale(0.904,1)" font-size="16.43" stroke="#000" stroke-width="0.25">400</text>
<text transform="translate(475.38,142.5) scale(0.894,1)" font-size="16.43" stroke="#000" stroke-width="0.25">450</text>
<text transform="translate(475.16,177) scale(0.902,1)" font-size="16.43" stroke="#000" stroke-width="0.25">500</text>
<text transform="translate(475.16,217.5) scale(0.902,1)" font-size="16.43" stroke="#000" stroke-width="0.25">550</text>
<text transform="translate(475.26,252) scale(0.899,1)" font-size="16.43" stroke="#000" stroke-width="0.25">600</text>
<rect x="92.3" y="148.2" width="2.5" height="10.8" fill="#111"/>
<rect x="106.3" y="148.2" width="2.5" height="10.8" fill="#111"/>
<rect x="110.9" y="148.2" width="2.8" height="10.8" fill="#111"/>
<rect x="115.75" y="148.2" width="2.65" height="10.8" fill="#111"/>
<rect x="129.7" y="148.2" width="2.5" height="10.8" fill="#111"/>
<rect x="92.6" y="182.9" width="2.1" height="10.6" fill="#111"/>
<rect x="108.4" y="182.9" width="1.7" height="10.6" fill="#111"/>
<rect x="111.5" y="182.9" width="1.7" height="10.6" fill="#111"/>
<rect x="114.5" y="182.9" width="1.7" height="10.6" fill="#111"/>
<rect x="130.1" y="182.9" width="1.9" height="10.6" fill="#111"/>
<rect x="93.4" y="223.2" width="1.7" height="10.8" fill="#111"/>
<rect x="108.9" y="223.2" width="1.9" height="10.8" fill="#555"/>
<rect x="111.6" y="223.2" width="1.4" height="10.8" fill="#111"/>
<rect x="114.1" y="223.2" width="1.8" height="10.8" fill="#555"/>
<rect x="129.7" y="223.2" width="1.5" height="10.8" fill="#111"/>
<rect x="92.8" y="257.75" width="1.7" height="10.85" fill="#111"/>
<rect x="109.3" y="257.75" width="1.6" height="10.85" fill="#666"/>
<rect x="111.75" y="257.75" width="1.25" height="10.85" fill="#111"/>
<rect x="113.9" y="257.75" width="2" height="10.85" fill="#666"/>
<rect x="130.5" y="257.75" width="1.5" height="10.85" fill="#111"/>
<rect x="466.8" y="148.3" width="1.45" height="10.9" fill="#111"/>
<rect x="484.9" y="148.3" width="1.4" height="10.9" fill="#111"/>
<rect x="486.8" y="148.3" width="1.45" height="10.9" fill="#111"/>
<rect x="488.7" y="148.3" width="1.5" height="10.9" fill="#111"/>
<rect x="507" y="148.3" width="1.25" height="10.9" fill="#111"/>
<rect x="466.8" y="182.9" width="1.45" height="10.6" fill="#111"/>
<rect x="484.9" y="182.9" width="5.1" height="10.6" fill="#8a8a8a"/>
<rect x="484.9" y="182.9" width="1.4" height="10.6" fill="#111"/>
<rect x="488.5" y="182.9" width="1.4" height="10.6" fill="#111"/>
<rect x="506.6" y="182.9" width="1.4" height="10.6" fill="#111"/>
<rect x="466.8" y="223.2" width="1.45" height="10.8" fill="#111"/>
<rect x="484.9" y="223.2" width="5.1" height="10.8" fill="#777"/>
<rect x="484.9" y="223.2" width="1.4" height="10.8" fill="#111"/>
<rect x="486.9" y="223.2" width="1.2" height="10.8" fill="#111"/>
<rect x="488.6" y="223.2" width="1.4" height="10.8" fill="#111"/>
<rect x="506.6" y="223.2" width="1.4" height="10.8" fill="#111"/>
<rect x="466.3" y="257.75" width="1.7" height="10.85" fill="#333"/>
<rect x="484.9" y="257.75" width="5" height="10.85" fill="#666"/>
<rect x="507" y="257.75" width="1.5" height="10.85" fill="#333"/>
<text transform="translate(13.08,169.8) scale(0.839,1)" font-size="21.16" stroke="#000" stroke-width="0.7">В</text>
<text transform="translate(575.3,169.8) scale(0.883,1)" font-size="21.16" stroke="#000" stroke-width="0.7">В</text>
<text transform="translate(12.97,244) scale(0.909,1)" font-size="21.01" stroke="#000" stroke-width="0.7">Г</text>
<text transform="translate(575.29,244) scale(0.898,1)" font-size="21.01" stroke="#000" stroke-width="0.7">Г</text>
<text transform="translate(12.55,94.2) scale(0.879,1)" font-size="20.58" stroke="#000" stroke-width="0.7">Б</text>
<text transform="translate(574.63,94.2) scale(0.833,1)" font-size="20.58" stroke="#000" stroke-width="0.7">Б</text>
<text transform="translate(11.9,317.5) scale(0.941,1)" font-size="20.29" stroke="#000" stroke-width="0.7">Д</text>
<text transform="translate(574.9,317.5) scale(0.941,1)" font-size="20.29" stroke="#000" stroke-width="0.7">Д</text>
<rect x="0" y="81.5" width="9.5" height="12.5" fill="#000"/>
<polygon points="1.2,87.8 8,83.5 8,92.1" fill="#fff"/>
<rect x="590.5" y="81.5" width="9.5" height="12.5" fill="#000"/>
<polygon points="598.8,87.8 592,83.5 592,92.1" fill="#fff"/>
<rect x="0" y="306.5" width="9.5" height="12" fill="#000"/>
<polygon points="1.2,312.5 8,308.2 8,316.8" fill="#fff"/>
<rect x="590.5" y="306.5" width="9.5" height="12" fill="#000"/>
<polygon points="598.8,312.5 592,308.2 592,316.8" fill="#fff"/>
<rect x="182" y="317" width="24.25" height="11" fill="#000"/>
<rect x="406.75" y="317" width="11.5" height="11.25" fill="#000"/>
<rect x="247" y="367" width="106.6" height="10.7" fill="#000"/>
<rect x="202.8" y="383.9" width="195.2" height="11" fill="#000"/>
<ellipse cx="113.6" cy="-0.3" rx="4.3" ry="1.4" fill="#000"/>
<ellipse cx="187.6" cy="-0.4" rx="3.7" ry="1.6" fill="#000"/>
<ellipse cx="265.1" cy="-0.2" rx="1.3" ry="1.7" fill="#000"/>
<ellipse cx="337" cy="-0.4" rx="3.6" ry="1.6" fill="#000"/>
<ellipse cx="412.7" cy="-0.4" rx="3.4" ry="1.6" fill="#000"/>
<ellipse cx="485.2" cy="-0.2" rx="1.4" ry="1.4" fill="#000"/>
<ellipse cx="187.6" cy="400.3" rx="3.5" ry="2" fill="#000"/>
<polygon points="263.8,400 265.5,398.2 266.6,398.4 266.4,400" fill="#000"/>
<rect x="333.3" y="397.9" width="7.7" height="2.1" fill="#000"/>
<rect x="482.5" y="397.9" width="10" height="2.1" fill="#000"/>
<ellipse cx="112.2" cy="400.6" rx="3.2" ry="2.6" fill="#000"/>
<polygon points="411,400 413.8,398 415,398.4 413.5,400" fill="#000"/>
</svg>
</body></html>
